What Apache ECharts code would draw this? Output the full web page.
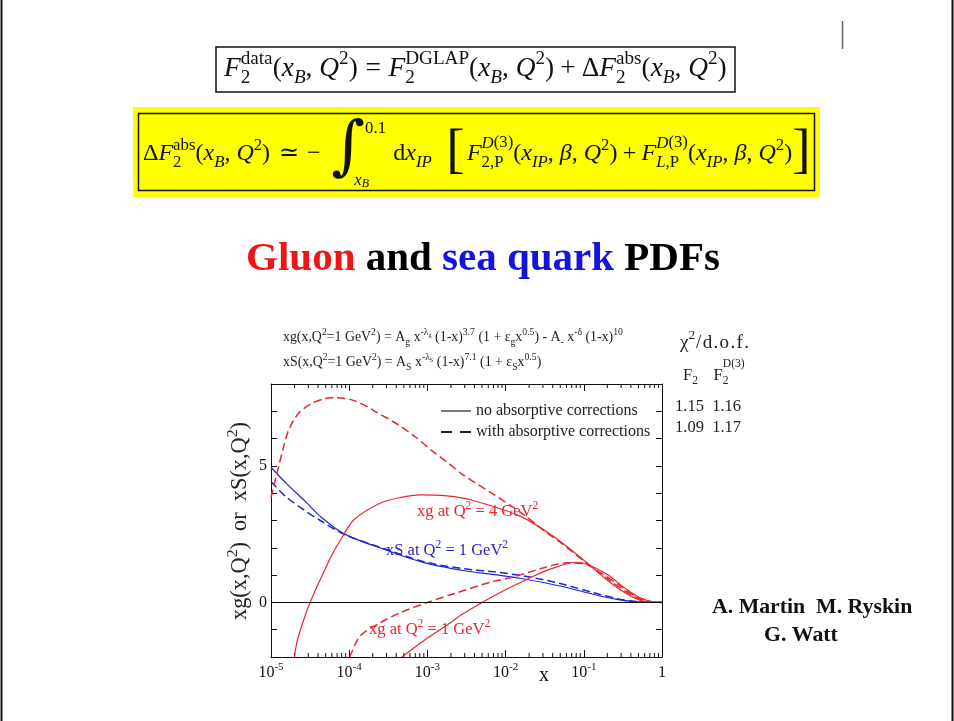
<!DOCTYPE html>
<html><head><meta charset="utf-8">
<script src="https://cdn.jsdelivr.net/npm/echarts@6/dist/echarts.min.js"></script>
<style>html,body{margin:0;padding:0;background:#fff}#c{width:954px;height:721px}</style>
</head><body><div id="c"></div>
<script>
// ---------------- data ----------------
// xg at Q^2 = 4 GeV^2, no absorptive corrections (solid red)
const gQ4NoAbsX = [2.0e-5, 2.14e-5, 2.51e-5, 3.16e-5, 4.47e-5, 6.03e-5, 8.5e-5, 1.15e-4, 2.51e-4, 4.47e-4, 8.1e-4, 1.78e-3, 3.55e-3, 1.55e-2, 4.07e-2, 0.11, 0.219, 0.437, 0.646, 1];
const gQ4NoAbsY = [-2.0, -1.47, -0.8, 0.0, 0.96, 1.75, 2.48, 3.03, 3.64, 3.84, 3.94, 3.9, 3.76, 3.15, 2.42, 1.45, 0.72, 0.17, 0.02, 0];
// xg at Q^2 = 4 GeV^2, with absorptive corrections (dashed red)
const gQ4AbsX = [1e-5, 1.25e-5, 1.45e-5, 1.68e-5, 2.24e-5, 3.31e-5, 4.9e-5, 6.6e-5, 1.1e-4, 1.62e-4, 2.14e-4, 4.27e-4, 7.1e-4, 1.15e-3, 1.86e-3, 2.75e-3, 7.1e-3, 1.55e-2, 3.55e-2, 5.0e-2, 0.11, 0.219, 0.437, 0.646, 1];
const gQ4AbsY = [3.85, 4.97, 5.7, 6.31, 6.92, 7.29, 7.47, 7.5, 7.41, 7.2, 7.0, 6.5, 6.05, 5.55, 5.1, 4.7, 3.95, 3.3, 2.5, 2.2, 1.42, 0.78, 0.22, 0.04, 0];
// xg at Q^2 = 1 GeV^2, no absorptive corrections (solid red)
const gQ1NoAbsX = [4.73e-4, 8.5e-4, 2.04e-3, 2.63e-3, 5.0e-3, 9.3e-3, 1.86e-2, 3.72e-2, 8.1e-2, 0.12, 0.2, 0.355, 0.525, 0.759, 1];
const gQ1NoAbsY = [-2.0, -1.45, -0.72, -0.48, 0.0, 0.42, 0.84, 1.22, 1.47, 1.35, 1.02, 0.47, 0.17, 0.02, 0];
// xg at Q^2 = 1 GeV^2, with absorptive corrections (dashed red)
const gQ1AbsX = [1.02e-4, 1.38e-4, 2.51e-4, 4.47e-4, 1e-3, 2.19e-3, 7.1e-3, 1.15e-2, 3.09e-2, 6.17e-2, 0.1, 0.162, 0.295, 0.479, 0.708, 1];
const gQ1AbsY = [-2.0, -1.23, -0.74, -0.38, 0.0, 0.32, 0.78, 0.9, 1.27, 1.45, 1.42, 1.1, 0.6, 0.2, 0.03, 0];
// xS at Q^2 = 1 GeV^2, no absorptive corrections (solid blue)
const sNoAbsX = [1e-5, 1.58e-5, 2.75e-5, 4.27e-5, 8.5e-5, 2.88e-4, 9.3e-4, 3.0e-3, 7.1e-3, 1.86e-2, 5.0e-2, 0.135, 0.263, 0.437, 1];
const sNoAbsY = [4.95, 4.35, 3.7, 3.15, 2.52, 1.93, 1.45, 1.16, 1.02, 0.84, 0.6, 0.29, 0.11, 0.03, 0];
// xS at Q^2 = 1 GeV^2, with absorptive corrections (dashed blue)
const sAbsX = [1e-5, 1.51e-5, 2.75e-5, 4.27e-5, 8.5e-5, 2.88e-4, 9.3e-4, 3.0e-3, 7.1e-3, 1.86e-2, 5.0e-2, 0.135, 0.263, 0.437, 1];
const sAbsY = [4.43, 3.9, 3.35, 3.0, 2.5, 1.96, 1.48, 1.23, 1.12, 0.95, 0.69, 0.35, 0.14, 0.04, 0];
// axes
const xMin = 1e-5, xMax = 1, yMin = -2, yMax = 8;
const yLabelled = [0, 5];
const chi2Rows = [['1.15', '1.16'], ['1.09', '1.17']];
const legendNames = ['no absorptive corrections', 'with absorptive corrections'];

// ---------------- helpers ----------------
const RED = '#ea2630', BLUE = '#2424d2';
const SERIF = '"Liberation Serif", "Times New Roman", serif';
const MC = document.createElement('canvas').getContext('2d');
function textW(font, s) { MC.font = font; return MC.measureText(s).width; }
function mkFont(sz, it, bold, fam) { return (it ? 'italic ' : '') + (bold ? 'bold ' : '') + sz.toFixed(2) + 'px ' + (fam || SERIF); }
function runMath(items, x, y, base, fill, out) {
  for (const it of items) {
    if (typeof it === 'number') { x += it * base; continue; }
    if (Array.isArray(it)) { let mx = x; for (const g of it) mx = Math.max(mx, runMath(g, x, y, base, fill, out)); x = mx; continue; }
    const sz = base * (it.s || 1);
    const font = mkFont(sz, it.i, it.b, it.f);
    const by = y - (it.d || 0) * base;
    if (out) out.push({ type: 'text', silent: true, style: { text: it.t, x: x, y: by - 0.34 * sz, font: font, fill: it.c || fill, verticalAlign: 'middle', align: 'left' } });
    x += textW(font, it.t);
  }
  return x;
}
function mathFit(items, x0, x1, y, fill) {
  const w = runMath(items, 0, 0, 100, fill, null);
  const base = 100 * (x1 - x0) / w;
  const out = []; runMath(items, x0, y, base, fill, out);
  return { els: out, base: base };
}
function mathAt(items, x0, y, base, fill) { const out = []; runMath(items, x0, y, base, fill, out); return out; }
const R = (t, o) => Object.assign({ t: t }, o || {});
const I = (t, o) => Object.assign({ t: t, i: 1 }, o || {});
const up = (t, o) => Object.assign({ t: t, s: 0.7, d: 0.45 }, o || {});
const dn = (t, o) => Object.assign({ t: t, s: 0.7, d: -0.25 }, o || {});
const spaced = (s, gap) => { const a = []; s.split('').forEach((c, k) => { if (k) a.push(gap); a.push(R(c)); }); return a; };

// ---------------- formulas ----------------
const f1 = [I('F'), [[up('data')], [dn('2')]], R('('), I('x'), dn('B', { i: 1 }), R(', '), I('Q'), up('2'), R(')'), 0.28, R('='), 0.28,
  I('F'), [[up('DGLAP')], [dn('2')]], R('('), I('x'), dn('B', { i: 1 }), R(', '), I('Q'), up('2'), R(')'), 0.22, R('+'), 0.22,
  R('Δ'), I('F'), [[up('abs')], [dn('2')]], R('('), I('x'), dn('B', { i: 1 }), R(', '), I('Q'), up('2'), R(')')];
const f2 = [R('Δ'), I('F'), [[up('abs')], [dn('2')]], R('('), I('x'), dn('B', { i: 1 }), R(', '), I('Q'), up('2'), R(')'), 0.35, R('≃'), 0.35, R('−'), 0.45,
  R('∫', { s: 2.7, d: -0.42, f: '"DejaVu Serif"' }), [[up('0.1', { d: 1.15 })], [-0.45, I('x', { s: 0.7, d: -1.0 }), I('B', { s: 0.5, d: -1.1 })]], 0.3,
  R('d'), I('x'), I('IP', { s: 0.7, d: -0.25 }), 0.6, R('[', { s: 2.3, d: -0.4 }), 0.1,
  I('F'), [[up('D', { i: 1, d: 0.55 }), up('(3)', { d: 0.55 })], [dn('2,P')]], R('('), I('x'), I('IP', { s: 0.7, d: -0.25 }), R(', '), I('β'), R(', '), I('Q'), up('2'), R(')'), 0.22, R('+'), 0.22,
  I('F'), [[up('D', { i: 1, d: 0.55 }), up('(3)', { d: 0.55 })], [dn('L', { i: 1 }), dn(',P')]], R('('), I('x'), I('IP', { s: 0.7, d: -0.25 }), R(', '), I('β'), R(', '), I('Q'), up('2'), R(')'), R(']', { s: 2.3, d: -0.4 })];
const L1 = [R('xg(x,Q'), up('2'), R('=1 GeV'), up('2'), R(') = A'), dn('g'), R(' x'), up('-λ'), R('g', { s: 0.45, d: 0.3 }), R(' (1-x)'), up('3.7'), R(' (1 + ε'), dn('g'), R('x'), up('0.5'), R(') - A'), dn('-'), R(' x'), up('-δ'), R(' (1-x)'), up('10')];
const L2 = [R('xS(x,Q'), up('2'), R('=1 GeV'), up('2'), R(') = A'), dn('S'), R(' x'), up('-λ'), R('S', { s: 0.45, d: 0.3 }), R(' (1-x)'), up('7.1'), R(' (1 + ε'), dn('S'), R('x'), up('0.5'), R(')')];

const g = [];
// slide frame
g.push({ type: 'line', silent: true, shape: { x1: 1.5, y1: 0, x2: 1.5, y2: 721 }, style: { stroke: '#111', lineWidth: 2 } });
g.push({ type: 'line', silent: true, shape: { x1: 952.5, y1: 0, x2: 952.5, y2: 721 }, style: { stroke: '#111', lineWidth: 2 } });
g.push({ type: 'line', silent: true, shape: { x1: 842.5, y1: 21, x2: 842.5, y2: 49 }, style: { stroke: '#666', lineWidth: 1.5 } });
// box 1
g.push({ type: 'rect', silent: true, shape: { x: 216, y: 47, width: 519, height: 45 }, style: { fill: '#fff', stroke: '#111', lineWidth: 1.5 } });
mathFit(f1, 224, 727, 78, '#111').els.forEach(e => g.push(e));
// yellow box
g.push({ type: 'rect', silent: true, shape: { x: 133, y: 107, width: 687, height: 90 }, style: { fill: '#ffff00', stroke: null } });
g.push({ type: 'rect', silent: true, shape: { x: 138.5, y: 113.5, width: 676, height: 77 }, style: { fill: '#ffff00', stroke: '#111', lineWidth: 1.5 } });
mathFit(f2, 143, 811, 162, '#111').els.forEach(e => g.push(e));
// title
g.push({ type: 'text', silent: true, style: { x: 483, y: 259, align: 'center', verticalAlign: 'middle', text: '{r|Gluon} and {b|sea quark} PDFs', font: 'bold 41px ' + SERIF, fill: '#000',
  rich: { r: { fill: '#f01414', font: 'bold 41px ' + SERIF }, b: { fill: '#1414e0', font: 'bold 41px ' + SERIF } } } });
// formula lines above the plot
const fl1 = mathFit(L1, 283, 623, 342, '#222');
fl1.els.forEach(e => g.push(e));
mathAt(L2, 283, 367, fl1.base, '#222').forEach(e => g.push(e));
// chi2 block
mathFit([R('χ'), up('2'), 0.05].concat(spaced('/d.o.f.', 0.07)), 680, 749, 349, '#222').els.forEach(e => g.push(e));
mathAt([R('F'), dn('2'), 0.95, R('F'), [[up('D(3)', { d: 0.8 })], [dn('2')]]], 683, 381, 16.5, '#222').forEach(e => g.push(e));
chi2Rows.forEach((r, k) => g.push({ type: 'text', silent: true, style: { x: 675, y: 407 + 21 * k, verticalAlign: 'middle', text: r[0] + '  ' + r[1], font: '16.5px ' + SERIF, fill: '#222' } }));
// plot labels
mathAt([R('xg at Q'), up('2'), R(' = 4 GeV'), up('2')], 417, 517, 16.5, RED).forEach(e => g.push(e));
mathAt([R('xS at Q'), up('2'), R(' = 1 GeV'), up('2')], 386, 556, 16.5, BLUE).forEach(e => g.push(e));
mathAt([R('xg at Q'), up('2'), R(' = 1 GeV'), up('2')], 369, 635, 16.5, RED).forEach(e => g.push(e));
// x axis name
g.push({ type: 'text', silent: true, style: { x: 544, y: 676, align: 'center', verticalAlign: 'middle', text: 'x', font: '20px ' + SERIF, fill: '#111' } });
// y axis name (rotated)
const yn = mathFit([R('xg(x,Q'), up('2'), R(')  or  xS(x,Q'), up('2'), R(')')], 0, 198, 0, '#222');
g.push({ type: 'group', x: 248, y: 620, rotation: Math.PI / 2, children: yn.els });
// authors
g.push({ type: 'text', silent: true, style: { x: 712, y: 607, verticalAlign: 'middle', text: 'A. Martin  M. Ryskin', font: 'bold 21.8px ' + SERIF, fill: '#111' } });
g.push({ type: 'text', silent: true, style: { x: 764, y: 635, verticalAlign: 'middle', text: 'G. Watt', font: 'bold 21.8px ' + SERIF, fill: '#111' } });

// ---------------- chart ----------------
const zip = (xs, ys) => xs.map((x, i) => [x, ys[i]]);
const minorTicks = [];
for (let e = -5; e < 0; e++) for (let k = 2; k <= 9; k++) minorTicks.push([k * Math.pow(10, e), 0]);

function curve(name, xs, ys, color, dashed, extra) {
  return Object.assign({ type: 'line', name: name, data: zip(xs, ys), showSymbol: false, symbol: 'none', smooth: 0.3, clip: true, silent: true,
    lineStyle: { color: color, width: dashed ? 1.5 : 1.2, type: dashed ? [8, 4] : 'solid' }, z: 3 }, extra || {});
}
const axisCommon = { axisLine: { show: true, onZero: false, lineStyle: { color: '#111', width: 1 } }, axisTick: { show: true, inside: true, length: 7, lineStyle: { color: '#111' } }, splitLine: { show: false } };

const chart = echarts.init(document.getElementById('c'), null, { renderer: 'canvas' });
chart.setOption({
  animation: false,
  backgroundColor: '#fff',
  grid: { left: 271, right: 292, top: 384, bottom: 64, containLabel: false },
  legend: { data: [{ name: legendNames[0], icon: 'path://M0,0h30v1.2h-30z' }, { name: legendNames[1], icon: 'path://M0,0h11v2.2h-11zM19,0h11v2.2h-11z' }],
    left: 436, top: 398, orient: 'vertical', itemWidth: 30, itemHeight: 13, itemGap: 5, symbolKeepAspect: true,
    textStyle: { fontFamily: SERIF, fontSize: 16, color: '#222', padding: [0, 0, 0, 0] }, selectedMode: false },
  xAxis: [
    Object.assign({ type: 'log', logBase: 10, min: xMin, max: xMax, position: 'bottom',
      axisLabel: { margin: 5, formatter: v => { const e = Math.round(Math.log10(v)); return e === 0 ? '{n|1}' : '{n|10}{e|' + e + '}'; },
        rich: { n: { fontFamily: SERIF, fontSize: 16, color: '#111', lineHeight: 22 }, e: { fontFamily: SERIF, fontSize: 11, color: '#111', lineHeight: 11, verticalAlign: 'top' } } } }, axisCommon),
    Object.assign({ type: 'log', logBase: 10, min: xMin, max: xMax, position: 'top', axisLabel: { show: false } }, axisCommon)
  ],
  yAxis: [
    Object.assign({ type: 'value', min: yMin, max: yMax, interval: 1, position: 'left',
      axisLabel: { margin: 4, fontFamily: SERIF, fontSize: 16, color: '#111', formatter: v => yLabelled.indexOf(v) >= 0 ? String(v) : '' } }, axisCommon, { axisTick: { show: true, inside: true, length: 6, lineStyle: { color: '#111' } } }),
    Object.assign({ type: 'value', min: yMin, max: yMax, interval: 1, position: 'right', axisLabel: { show: false } }, axisCommon, { axisTick: { show: true, inside: true, length: 6, lineStyle: { color: '#111' } } })
  ],
  series: [
    { type: 'custom', silent: true, data: minorTicks, encode: { x: 0, y: 1 }, z: 2,
      renderItem: (params, api) => {
        const x = api.value(0);
        const pb = api.coord([x, yMin]), pt = api.coord([x, yMax]);
        return { type: 'group', children: [
          { type: 'line', shape: { x1: pb[0], y1: pb[1], x2: pb[0], y2: pb[1] - 4 }, style: { stroke: '#111', lineWidth: 1 } },
          { type: 'line', shape: { x1: pt[0], y1: pt[1], x2: pt[0], y2: pt[1] + 4 }, style: { stroke: '#111', lineWidth: 1 } }] };
      } },
    curve('sS', sNoAbsX, sNoAbsY, BLUE, false, { markLine: { silent: true, symbol: 'none', label: { show: false }, lineStyle: { color: '#111', width: 1, type: 'solid' }, data: [{ yAxis: 0 }] } }),
    curve('sD', sAbsX, sAbsY, BLUE, true),
    curve('g4S', gQ4NoAbsX, gQ4NoAbsY, RED, false),
    curve('g4D', gQ4AbsX, gQ4AbsY, RED, true),
    curve('g1S', gQ1NoAbsX, gQ1NoAbsY, RED, false),
    curve('g1D', gQ1AbsX, gQ1AbsY, RED, true),
    { type: 'line', name: legendNames[0], data: [], symbol: 'none', lineStyle: { color: '#222', width: 1.2 }, itemStyle: { color: '#222' } },
    { type: 'line', name: legendNames[1], data: [], symbol: 'none', lineStyle: { color: '#222', width: 2, type: [9, 6] }, itemStyle: { color: '#222' } }
  ],
  graphic: g
});
</script>
</body></html>
